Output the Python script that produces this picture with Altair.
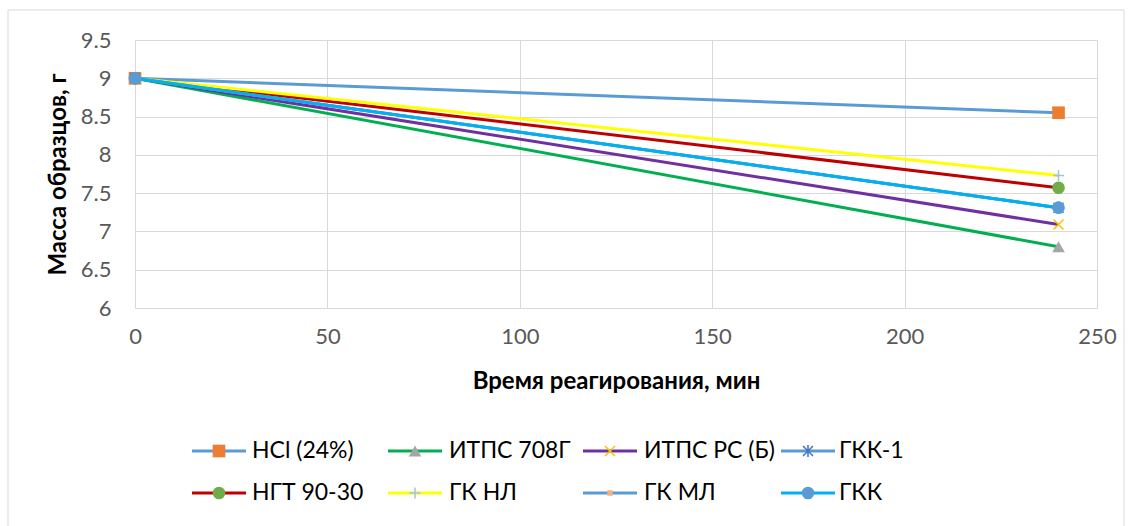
import altair as alt
import pandas as pd

# ---- data ----
times = [0, 240]
series_names = ["HCl (24%)", "ИТПС 708Г", "ИТПС РС (Б)", "ГКК-1",
                "НГТ 90-30", "ГК НЛ", "ГК МЛ", "ГКК"]
hcl = [9.0, 8.55]
itps_708g = [9.0, 6.80]
itps_rs = [9.0, 7.09]
gkk1 = [9.0, 7.31]
ngt = [9.0, 7.57]
gk_nl = [9.0, 7.73]
gk_ml = [9.0, 7.31]
gkk = [9.0, 7.31]
values = [hcl, itps_708g, itps_rs, gkk1, ngt, gk_nl, gk_ml, gkk]
x_ticks = [0, 50, 100, 150, 200, 250]
y_ticks = [6, 6.5, 7, 7.5, 8, 8.5, 9, 9.5]

FONT = "Lato"
X_PATH = "M-1,-1L1,1M-1,1L1,-1"
STAR_PATH = "M-1,-1L1,1M-1,1L1,-1M0,-1.2L0,1.2"
PLUS_PATH = "M-1,0L1,0M0,-1L0,1"

# line color, marker shape, marker color, filled, marker size
styles = [
    ("#5B9BD5", "square", "#ED7D31", True, 160),
    ("#00B050", "triangle-up", "#A5A5A5", True, 160),
    ("#7030A0", X_PATH, "#FFC000", False, 100),
    ("#5B9BD5", STAR_PATH, "#4472C4", False, 100),
    ("#C00000", "circle", "#70AD47", True, 160),
    ("#FFFF00", PLUS_PATH, "#9DC3E6", False, 120),
    ("#5B9BD5", "square", "#F4B183", True, 30),
    ("#00B0F0", "circle", "#5B9BD5", True, 160),
]

W, H = 962, 268
PAD_L, PAD_T = 135, 40

x_scale = alt.Scale(domain=[0, 250], nice=False)
y_scale = alt.Scale(domain=[6, 9.5], nice=False)

layers = []

# outer chart border
border = alt.Chart(pd.DataFrame({"a": [0]})).mark_rect(
    fillOpacity=0, stroke="#D9D9D9", strokeWidth=1
).encode(x=alt.value(8 - PAD_L), x2=alt.value(1124 - PAD_L),
         y=alt.value(10 - PAD_T), y2=alt.value(540 - PAD_T))
layers.append(border)

for i, (name, vals) in enumerate(zip(series_names, values)):
    lc, shape, mc, filled, size = styles[i]
    df = pd.DataFrame({"t": times, "m": vals, "s": [name] * len(times)})
    xenc = alt.X("t:Q", scale=x_scale,
                 axis=alt.Axis(values=x_ticks, title="Время реагирования, мин"))
    yenc = alt.Y("m:Q", scale=y_scale,
                 axis=alt.Axis(values=y_ticks, format="~g", title="Масса образцов, г"))
    line = alt.Chart(df).mark_line(color=lc, strokeWidth=3).encode(x=xenc, y=yenc)
    if filled:
        pt = alt.Chart(df).mark_point(shape=shape, size=size, filled=True,
                                      color=mc, opacity=1).encode(x=xenc, y=yenc)
    else:
        pt = alt.Chart(df).mark_point(shape=shape, size=size, filled=False,
                                      color=mc, strokeWidth=1.5, opacity=1).encode(x=xenc, y=yenc)
    layers += [line, pt]

# legend (two rows, four columns)
col_line_x = [192, 388, 583, 781]
col_line_w = 54
col_text_x = [252, 449, 644, 839]
row_y = [451, 493]
for i, name in enumerate(series_names):
    lc, shape, mc, filled, size = styles[i]
    c, r = i % 4, i // 4
    ldf = pd.DataFrame({"name": [name]})
    x0 = col_line_x[c] - PAD_L
    yy = row_y[r] - PAD_T
    seg = alt.Chart(ldf).mark_rule(color=lc, strokeWidth=3).encode(
        x=alt.value(x0), x2=alt.value(x0 + col_line_w), y=alt.value(yy))
    if filled:
        mk = alt.Chart(ldf).mark_point(shape=shape, size=size, filled=True,
                                       color=mc, opacity=1)
    else:
        mk = alt.Chart(ldf).mark_point(shape=shape, size=size, filled=False,
                                       color=mc, strokeWidth=1.5, opacity=1)
    mk = mk.encode(x=alt.value(x0 + col_line_w / 2), y=alt.value(yy))
    tx = alt.Chart(ldf).mark_text(align="left", baseline="middle", font=FONT,
                                  fontSize=23, color="#000000").encode(
        x=alt.value(col_text_x[c] - PAD_L), y=alt.value(yy), text="name:N")
    layers += [seg, mk, tx]

chart = alt.layer(*layers).properties(
    width=W, height=H,
    autosize=alt.AutoSizeParams(type="none"),
    padding={"left": PAD_L, "top": PAD_T, "right": 1133 - PAD_L - W,
             "bottom": 526 - PAD_T - H},
    background="#FFFFFF",
).configure_view(stroke="transparent").configure_axis(
    grid=True, gridColor="#D9D9D9", gridWidth=1, domain=False, ticks=False,
    labelFont=FONT, labelFontSize=22, labelColor="#595959", labelFlush=False,
    titleFont=FONT, titleFontSize=24, titleFontWeight="bold", titleColor="#000000",
).configure_axisX(
    labelPadding=18, titleX=481, titleY=73, titleBaseline="middle",
).configure_axisY(
    labelPadding=24, titleX=-77, titleY=134, titleBaseline="middle", titleAngle=-90,
)

chart.save("out.html", embed_options={"renderer": "svg", "actions": False})
